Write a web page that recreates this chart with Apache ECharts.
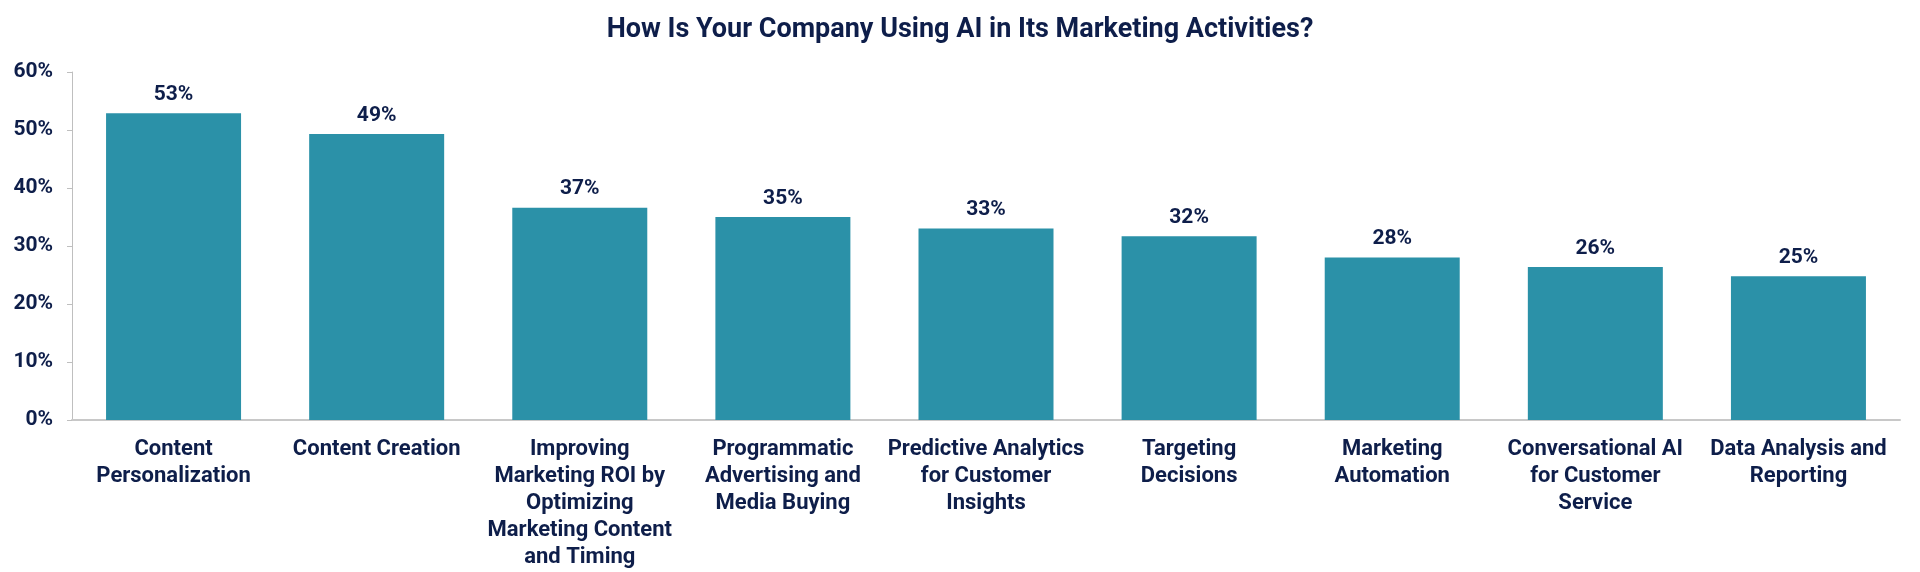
<!DOCTYPE html>
<html>
<head>
<meta charset="utf-8">
<script src="https://cdn.jsdelivr.net/npm/echarts@6/dist/echarts.min.js"></script>
<style>
  html, body { margin: 0; padding: 0; background: #ffffff; }
  #chart { width: 1920px; height: 572px; }
</style>
</head>
<body>
<div id="chart"></div>
<script>
const titleText = 'How Is Your Company Using AI in Its Marketing Activities?';
const categories = [
  'Content\nPersonalization',
  'Content Creation',
  'Improving\nMarketing ROI by\nOptimizing\nMarketing Content\nand Timing',
  'Programmatic\nAdvertising and\nMedia Buying',
  'Predictive Analytics\nfor Customer\nInsights',
  'Targeting\nDecisions',
  'Marketing\nAutomation',
  'Conversational AI\nfor Customer\nService',
  'Data Analysis and\nReporting'
];
const values = [52.9, 49.3, 36.6, 35.0, 33.0, 31.7, 28.0, 26.4, 24.8];
const valueLabels = ['53%', '49%', '37%', '35%', '33%', '32%', '28%', '26%', '25%'];
const yTicks = { min: 0, max: 60, interval: 10 };

const navy = '#0e1e4a';
const teal = '#2b91a8';
const fontFam = 'Roboto, "Noto Sans", sans-serif';

const chart = echarts.init(document.getElementById('chart'), null, { renderer: 'canvas' });
chart.setOption({
  backgroundColor: '#ffffff',
  animation: false,
  title: {
    text: titleText,
    left: 'center',
    top: 12,
    textStyle: { color: navy, fontFamily: fontFam, fontWeight: 'bold', fontSize: 27 }
  },
  grid: { left: 72, right: 20, top: 72, bottom: 152 },
  xAxis: {
    type: 'category',
    data: categories,
    axisLine: { show: true, lineStyle: { color: '#c8c8c8', width: 2 } },
    axisTick: { show: false },
    axisLabel: {
      interval: 0,
      margin: 16,
      color: navy,
      fontFamily: fontFam,
      fontWeight: 'bold',
      fontSize: 22,
      lineHeight: 27,
      align: 'center',
      verticalAlign: 'top'
    }
  },
  yAxis: {
    type: 'value',
    min: yTicks.min,
    max: yTicks.max,
    interval: yTicks.interval,
    splitLine: { show: false },
    axisLine: { show: true, lineStyle: { color: '#bfbfbf', width: 1 } },
    axisTick: { show: true, length: 5, lineStyle: { color: '#bfbfbf' } },
    axisLabel: {
      margin: 19,
      color: navy,
      fontFamily: fontFam,
      fontWeight: 'bold',
      fontSize: 21,
      formatter: '{value}%'
    }
  },
  series: [{
    type: 'bar',
    data: values,
    barWidth: 135,
    itemStyle: { color: teal },
    label: {
      show: true,
      position: 'top',
      distance: 8,
      color: navy,
      fontFamily: fontFam,
      fontWeight: 'bold',
      fontSize: 21,
      formatter: function (p) { return valueLabels[p.dataIndex]; }
    }
  }]
});
</script>
</body>
</html>
